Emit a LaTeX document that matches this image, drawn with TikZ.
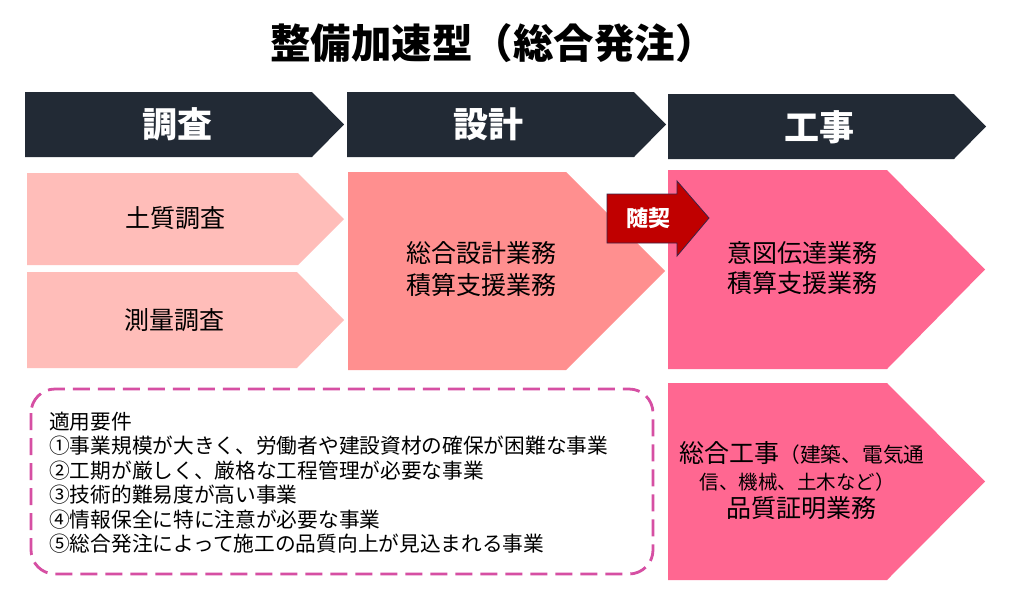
\documentclass[tikz,border=0pt]{standalone}
\usepackage{fontspec}
\setmainfont{Noto Sans CJK JP}
\definecolor{hdrc}{HTML}{222A35}
\definecolor{pinkA}{HTML}{FFBDB9}
\definecolor{pinkB}{HTML}{FF8F8F}
\definecolor{pinkC}{HTML}{FF6791}
\definecolor{redc}{HTML}{C00000}
\definecolor{arrowedge}{HTML}{3A2448}
\definecolor{dashc}{HTML}{D64FA3}
\begin{document}
\begin{tikzpicture}[x=1pt,y=-1pt,
  lbl/.style={inner sep=0pt, align=center},
  hdrtext/.style={lbl, text=white, font=\fontsize{35pt}{40pt}\selectfont\bfseries},
  bodytext/.style={lbl, text=black, font=\fontsize{25pt}{31pt}\selectfont},
  reqtext/.style={inner sep=0pt, anchor=west, text=black, font=\fontsize{20.7pt}{24pt}\selectfont},
]
\useasboundingbox (0,0) rectangle (1031,603);
\fill[white] (0,0) rectangle (1031,603);

% title
\node[lbl, font=\fontsize{40.5pt}{46pt}\selectfont\bfseries] (title) at (493,43) {整備加速型（総合発注）};

% headers
\fill[hdrc] (25,92) -- (312,92) -- (344,124.5) -- (312,157) -- (25,157) -- cycle;
\fill[hdrc] (347,92) -- (634,92) -- (666,124.5) -- (634,157) -- (347,157) -- cycle;
\fill[hdrc] (668,94) -- (954,94) -- (986,126.5) -- (954,159) -- (668,159) -- cycle;
\node[hdrtext] (h1) at (177,124) {調査};
\node[hdrtext] (h2) at (488,124) {設計};
\node[hdrtext] (h3) at (819,127) {工事};

% content shapes
\fill[pinkA] (27,173) -- (298,173) -- (344,219) -- (298,265) -- (27,265) -- cycle;
\fill[pinkA] (27,272) -- (297,272) -- (344,320) -- (297,368) -- (27,368) -- cycle;
\fill[pinkB] (348,172) -- (566,172) -- (665,271) -- (566,370) -- (348,370) -- cycle;
\fill[pinkC] (668,170) -- (887,170) -- (985,269.5) -- (887,369) -- (668,369) -- cycle;
\fill[pinkC] (668,383) -- (887,383) -- (985,481.5) -- (887,580) -- (668,580) -- cycle;

% content texts
\node[bodytext] (s1) at (175,218) {土質調査};
\node[bodytext] (s2) at (174,320) {測量調査};
\node[bodytext, font=\fontsize{25pt}{32pt}\selectfont] (d1) at (481,269) {総合設計業務\\積算支援業務};
\node[bodytext, font=\fontsize{25pt}{30pt}\selectfont] (k1) at (802,268) {意図伝達業務\\積算支援業務};
\node[bodytext] (k2a) at (802,453) {総合工事{\fontsize{20.7pt}{24pt}\selectfont （建築、電気通}};
\node[lbl, font=\fontsize{19.5pt}{24pt}\selectfont] (k2b) at (797,482) {信、機械、土木など）};
\node[bodytext] (k2c) at (801,508) {品質証明業務};

% zuikei arrow
\draw[fill=redc, draw=arrowedge, line width=0.8pt] (607,194) -- (677,194) -- (677,181) -- (709,218) -- (677,256) -- (677,243) -- (607,243) -- cycle;
\node[lbl, text=white, font=\fontsize{22pt}{26pt}\selectfont\bfseries] (zk) at (648,218) {随契};

% requirements box
\draw[dashc, line width=2.8pt, dash pattern=on 17pt off 8pt, rounded corners=24pt] (31,389) rectangle (653,574);
\node[reqtext] (r0) at (49,421.5) {適用要件};
\node[reqtext] (r1) at (49,446) {①事業規模が大きく、労働者や建設資材の確保が困難な事業};
\node[reqtext] (r2) at (49,470.5) {②工期が厳しく、厳格な工程管理が必要な事業};
\node[reqtext] (r3) at (49,495) {③技術的難易度が高い事業};
\node[reqtext] (r4) at (49,519.5) {④情報保全に特に注意が必要な事業};
\node[reqtext] (r5) at (49,544) {⑤総合発注によって施工の品質向上が見込まれる事業};
\end{tikzpicture}
\end{document}
